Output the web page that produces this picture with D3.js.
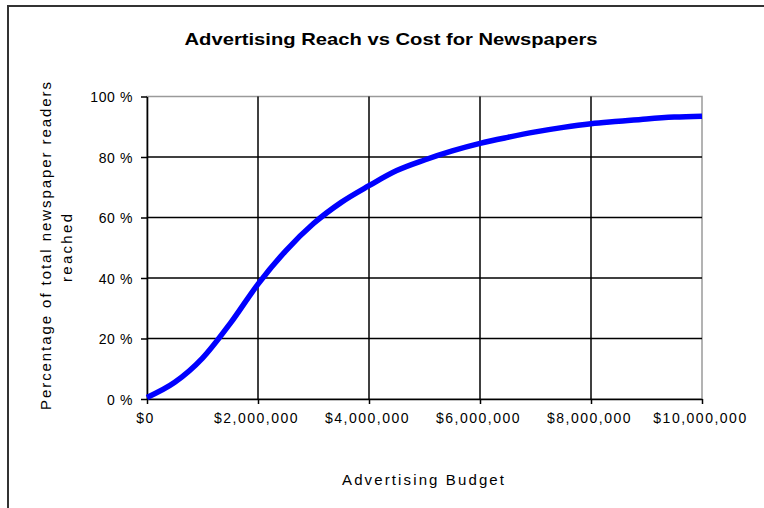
<!DOCTYPE html>
<html>
<head>
<meta charset="utf-8">
<script src="https://cdn.jsdelivr.net/npm/d3@7"></script>
<style>
  html, body { margin: 0; padding: 0; background: #fff; }
  svg { display: block; }
  text { font-family: "Liberation Sans", Arial, sans-serif; fill: #000; }
</style>
</head>
<body>
<svg id="chart" width="764" height="508"></svg>
<script>
// Advertising budget (dollars) and share of newspaper readers reached (%)
const budget = [0, 500000, 1000000, 1500000, 2000000, 2500000, 3000000, 3500000,
  4000000, 4500000, 5000000, 5500000, 6000000, 6500000, 7000000, 7500000,
  8000000, 8500000, 9000000, 9500000, 10000000];
const reach = [0.5, 5.5, 13.5, 25, 38, 49, 58, 65, 70.5, 75.5, 79, 82, 84.5,
  86.5, 88.3, 89.8, 91, 91.8, 92.6, 93.2, 93.5];
const xTicks = [0, 2000000, 4000000, 6000000, 8000000, 10000000];
const yTicks = [0, 20, 40, 60, 80, 100];
const chartTitle = "Advertising Reach vs Cost for Newspapers";
const xTitle = "Advertising Budget";
const yTitleLines = ["Percentage of total newspaper readers", "reached"];

const svg = d3.select("#chart");
const plot = { left: 147, top: 96.5, width: 555, height: 302.5 };

// outer frame (runs off the right and bottom edges)
svg.append("rect")
  .attr("x", 8).attr("y", 6).attr("width", 900).attr("height", 700)
  .attr("fill", "#fff").attr("stroke", "#333").attr("stroke-width", 2);

const x = d3.scaleLinear().domain([0, 10000000]).range([0, plot.width]);
const y = d3.scaleLinear().domain([0, 100]).range([plot.height, 0]);

const g = svg.append("g").attr("transform", `translate(${plot.left},${plot.top})`);

// plot frame: grey top and right edges
g.append("rect")
  .attr("x", 0).attr("y", 0).attr("width", plot.width).attr("height", plot.height)
  .attr("fill", "#fff").attr("stroke", "#9a9a9a").attr("stroke-width", 1.5);

// gridlines
g.append("g").selectAll("line").data(yTicks.filter(d => d > 0 && d < 100)).join("line")
  .attr("x1", 0).attr("x2", plot.width)
  .attr("y1", d => y(d)).attr("y2", d => y(d))
  .attr("stroke", "#000").attr("stroke-width", 1.5);
g.append("g").selectAll("line").data(xTicks.filter(d => d > 0 && d < 10000000)).join("line")
  .attr("y1", 0).attr("y2", plot.height)
  .attr("x1", d => x(d)).attr("x2", d => x(d))
  .attr("stroke", "#000").attr("stroke-width", 1.5);

// axes
const fmtMoney = d => "$" + d3.format(",")(d);
const xAxis = g.append("g").attr("transform", `translate(0,${plot.height})`)
  .call(d3.axisBottom(x).tickValues(xTicks).tickFormat(fmtMoney).tickSize(5).tickSizeOuter(0).tickPadding(8));
const yAxis = g.append("g")
  .call(d3.axisLeft(y).tickValues(yTicks).tickFormat(d => d + " %").tickSize(6).tickSizeOuter(0).tickPadding(8));

[xAxis, yAxis].forEach(a => {
  a.select(".domain").attr("stroke", "#000").attr("stroke-width", 1.6);
  a.selectAll(".tick line").attr("stroke", "#000").attr("stroke-width", 1.5);
  a.selectAll("text")
    .style("font-family", '"Liberation Sans", Arial, sans-serif')
    .style("font-size", "14px").attr("fill", "#000");
});
xAxis.selectAll("text").style("letter-spacing", "1.5px").attr("dy", "0.75em").attr("dx", "-2");
yAxis.selectAll("text").style("letter-spacing", "0.6px").attr("dy", "0.36em");
yAxis.select(".tick:first-of-type text").text("0 %");

// reach curve
const pts = budget.map((b, i) => [b, reach[i]]);
g.append("path")
  .datum(pts)
  .attr("fill", "none")
  .attr("stroke", "#0000ff")
  .attr("stroke-width", 5.5)
  .attr("stroke-linejoin", "round")
  .attr("d", d3.line().x(d => x(d[0])).y(d => y(d[1])).curve(d3.curveMonotoneX));

// titles
svg.append("text")
  .attr("x", 391).attr("y", 45)
  .attr("text-anchor", "middle")
  .attr("textLength", 413).attr("lengthAdjust", "spacingAndGlyphs")
  .style("font-size", "17px").style("font-weight", "bold")
  .text(chartTitle);

svg.append("text")
  .attr("x", 423).attr("y", 485)
  .attr("text-anchor", "middle")
  .attr("textLength", 162).attr("lengthAdjust", "spacing")
  .style("font-size", "15px")
  .text(xTitle);

const yt = svg.append("text")
  .attr("transform", "translate(0,246) rotate(-90)")
  .attr("text-anchor", "middle")
  .style("font-size", "15px");
yt.append("tspan").attr("x", 0).attr("y", 51)
  .attr("textLength", 328).attr("lengthAdjust", "spacing")
  .text(yTitleLines[0]);
yt.append("tspan").attr("x", -2).attr("y", 72)
  .attr("textLength", 68).attr("lengthAdjust", "spacing")
  .text(yTitleLines[1]);
</script>
</body>
</html>
